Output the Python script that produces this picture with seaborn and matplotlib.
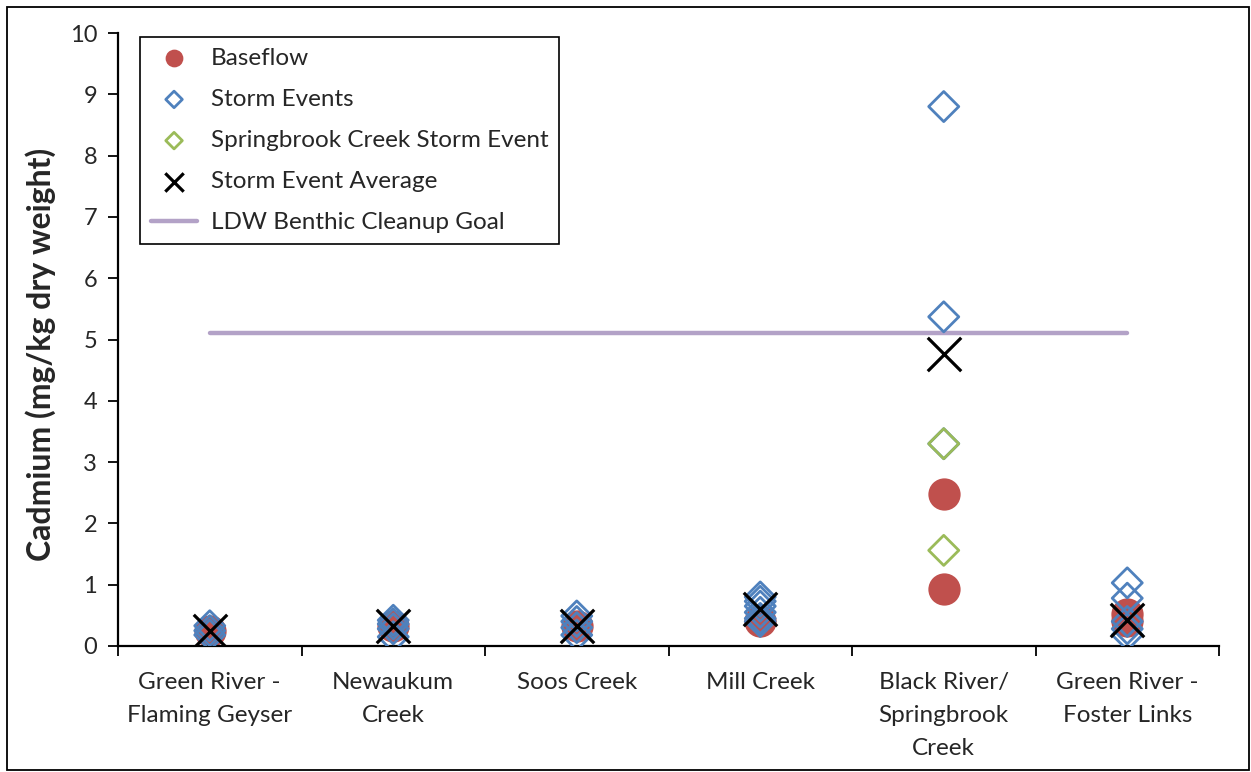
import matplotlib
matplotlib.use("Agg")
import matplotlib.pyplot as plt
import seaborn as sns
import pandas as pd
from matplotlib.patches import Rectangle

sites = ["Green River -\nFlaming Geyser", "Newaukum\nCreek", "Soos Creek",
         "Mill Creek", "Black River/\nSpringbrook\nCreek", "Green River -\nFoster Links"]

baseflow_site = [0, 1, 2, 3, 4, 4, 5, 5]
baseflow_val = [0.25, 0.33, 0.32, 0.40, 2.48, 0.93, 0.52, 0.40]

storm_site = [0, 0, 0, 1, 1, 1, 1, 2, 2, 2, 2,
              3, 3, 3, 3, 3, 3, 4, 4, 4, 5, 5, 5, 5, 5]
storm_val = [0.18, 0.25, 0.33, 0.15, 0.28, 0.36, 0.42, 0.18, 0.30, 0.40, 0.49,
             0.80, 0.73, 0.65, 0.55, 0.45, 0.40, 8.80, 5.37, 3.30, 1.03, 0.78, 0.40, 0.28, 0.18]

spring_site = [4, 4]
spring_val = [3.30, 1.56]

avg_site = [0, 1, 2, 3, 4, 5]
avg_val = [0.25, 0.33, 0.33, 0.60, 4.77, 0.42]

goal_site = [0, 5]
goal_val = [5.1, 5.1]

RED = "#C0504D"
BLUE = "#4F81BD"
GREEN = "#9BBB59"
PURPLE = "#B3A2C7"

sns.set_theme(style="white")
plt.rcParams["font.family"] = ["Lato", "DejaVu Sans"]

fig = plt.figure(figsize=(12.51, 7.72), dpi=100)
ax = fig.add_axes([118 / 1251, 1 - 646 / 772, (1219 - 118) / 1251, (646 - 33) / 772])

df_b = pd.DataFrame({"x": baseflow_site, "y": baseflow_val})
df_s = pd.DataFrame({"x": storm_site, "y": storm_val})
df_g = pd.DataFrame({"x": spring_site, "y": spring_val})
df_a = pd.DataFrame({"x": avg_site, "y": avg_val})
df_l = pd.DataFrame({"x": goal_site, "y": goal_val})

sns.lineplot(data=df_l, x="x", y="y", ax=ax, color=PURPLE, linewidth=3.2,
             label="LDW Benthic Cleanup Goal", zorder=1)
sns.scatterplot(data=df_b, x="x", y="y", ax=ax, color=RED, marker="o", s=540,
                linewidth=0, label="Baseflow", zorder=2)
sns.scatterplot(data=df_s, x="x", y="y", ax=ax, color=BLUE, marker="D", s=235,
                facecolor="none", edgecolor=BLUE, linewidth=2.0,
                label="Storm Events", zorder=3)
ax.collections[-1].set_facecolor("none")
sns.scatterplot(data=df_g, x="x", y="y", ax=ax, color=GREEN, marker="D", s=235,
                facecolor="none", edgecolor=GREEN, linewidth=2.0,
                label="Springbrook Creek Storm Event", zorder=4)
ax.collections[-1].set_facecolor("none")
sns.scatterplot(data=df_a, x="x", y="y", ax=ax, color="black", marker="x", s=580,
                linewidth=2.3, label="Storm Event Average", zorder=5)

ax.set_xlim(-0.5, len(sites) - 0.5)
ax.set_ylim(0, 10)
ax.set_yticks(range(0, 11))
ax.set_xticks(range(len(sites)))
ax.set_xticklabels(sites, fontsize=17.5, linespacing=1.68)
ax.set_xticks([i - 0.5 for i in range(len(sites) + 1)], minor=True)
ax.tick_params(axis="x", which="major", length=0, pad=19)
ax.tick_params(axis="x", which="minor", length=7, width=1.3, color="black", direction="out",
               bottom=True)
ax.tick_params(axis="y", which="major", length=7, width=1.3, color="black", direction="out",
               left=True, labelsize=17, pad=8)
ax.set_xlabel("")
ax.set_ylabel("Cadmium (mg/kg dry weight)", fontsize=23, fontweight="bold", labelpad=7)
ax.yaxis.set_label_coords(-0.056, 0.475)
for sp in ["top", "right"]:
    ax.spines[sp].set_visible(False)
for sp in ["left", "bottom"]:
    ax.spines[sp].set_color("black")
    ax.spines[sp].set_linewidth(1.6)

handles, labels = ax.get_legend_handles_labels()
order = ["Baseflow", "Storm Events", "Springbrook Creek Storm Event",
         "Storm Event Average", "LDW Benthic Cleanup Goal"]
hmap = dict(zip(labels, handles))
leg = ax.legend([hmap[k] for k in order], order, loc="upper left",
                bbox_to_anchor=(0.02, 0.994), borderaxespad=0, fontsize=17.5,
                frameon=True, fancybox=False, edgecolor="black", framealpha=1,
                markerscale=0.55, labelspacing=0.83, handlelength=1.9,
                borderpad=0.45, handletextpad=0.55)
leg.get_frame().set_linewidth(1.2)

fig.patches.append(Rectangle((7 / 1251, 2 / 772), 1 - 9 / 1251, 1 - 9 / 772,
                             transform=fig.transFigure, fill=False,
                             edgecolor="black", linewidth=1.3))

fig.savefig("out.png", dpi=100)
